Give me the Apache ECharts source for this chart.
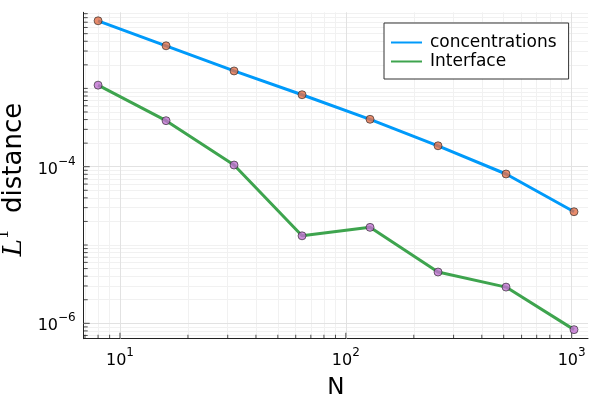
<!DOCTYPE html>
<html>
<head>
<meta charset="utf-8">
<script src="https://cdn.jsdelivr.net/npm/echarts@6/dist/echarts.min.js"></script>
<style>html,body{margin:0;padding:0;background:#fff}#c{width:600px;height:400px}</style>
</head>
<body>
<div id="c"></div>
<script>
const N = [8, 16, 32, 64, 128, 256, 512, 1024];
const concentrations = [7.3e-3, 3.5e-3, 1.67e-3, 8.3e-4, 4.03e-4, 1.85e-4, 8.07e-5, 2.66e-5];
const interfaceErr = [1.1e-3, 3.87e-4, 1.05e-4, 1.31e-5, 1.68e-5, 4.52e-6, 2.9e-6, 8.3e-7];
const seriesNames = ['concentrations', 'Interface'];
const xMajor = [10, 100, 1000];
const yMajor = [1e-6, 1e-4];

const xMin = 6.91, xMax = 1181, yMin = 6.36e-7, yMax = 9.37e-3;
const FONT = 'DejaVu Sans';

// minor grid/tick values (2..9 per decade plus unlabelled decades)
function minorVals(lo, hi, majors) {
  const out = [];
  for (let k = Math.floor(Math.log10(lo)); k <= Math.ceil(Math.log10(hi)); k++) {
    for (let m = 1; m <= 9; m++) {
      const v = m * Math.pow(10, k);
      if (v > lo && v < hi && !majors.some(M => Math.abs(M - v) / M < 1e-9)) out.push(v);
    }
  }
  return out;
}
const xMinor = minorVals(xMin, xMax, xMajor);
const yMinor = minorVals(yMin, yMax, yMajor);

function supLabel(v, keep) {
  const l = Math.log10(v), e = Math.round(l);
  if (Math.abs(l - e) > 1e-6 || !keep(e)) return '';
  return '{b|10}{s|' + (e < 0 ? '\u2212' : '') + Math.abs(e) + '}';
}
const richTick = {
  b: { fontSize: 16, fontFamily: FONT, color: '#000', verticalAlign: 'bottom', lineHeight: 22 },
  s: { fontSize: 12, fontFamily: FONT, color: '#000', verticalAlign: 'top', lineHeight: 22, padding: [0, 0, 6, 0] }
};

const vLines = (vals) => vals.map(v => [{ coord: [v, yMin] }, { coord: [v, yMax] }]);
const hLines = (vals) => vals.map(v => [{ coord: [xMin, v] }, { coord: [xMax, v] }]);
const gridMark = (data, color, z) => ({
  symbol: 'none', silent: true, animation: false, label: { show: false }, z: z,
  lineStyle: { color: color, width: 1, type: 'solid' }, data: data
});

const series = [
  { name: '_gridMinor', type: 'line', data: [],
    markLine: gridMark(vLines(xMinor).concat(hLines(yMinor)), '#f1f1f1', 0), z: 0 },
  { name: '_gridMajor', type: 'line', data: [],
    markLine: gridMark(vLines(xMajor).concat(hLines(yMajor)), '#e2e2e2', 1), z: 1 },
  { name: '_ticksXminor', type: 'scatter', clip: false, silent: true, symbol: 'rect', symbolSize: [1, 4], symbolOffset: [0, -2],
    itemStyle: { color: '#222' }, data: xMinor.map(v => [v, yMin]), z: 2 },
  { name: '_ticksXmajor', type: 'scatter', clip: false, silent: true, symbol: 'rect', symbolSize: [1, 6], symbolOffset: [0, -3],
    itemStyle: { color: '#222' }, data: xMajor.map(v => [v, yMin]), z: 2 },
  { name: '_ticksYminor', type: 'scatter', clip: false, silent: true, symbol: 'rect', symbolSize: [4, 1], symbolOffset: [2, 0],
    itemStyle: { color: '#222' }, data: yMinor.map(v => [xMin, v]), z: 2 },
  { name: '_ticksYmajor', type: 'scatter', clip: false, silent: true, symbol: 'rect', symbolSize: [6, 1], symbolOffset: [3, 0],
    itemStyle: { color: '#222' }, data: yMajor.map(v => [xMin, v]), z: 2 },
  { name: seriesNames[0], type: 'line', symbol: 'none', showSymbol: false,
    lineStyle: { color: '#009AFA', width: 3 }, itemStyle: { color: '#009AFA' },
    data: N.map((n, i) => [n, concentrations[i]]), z: 10 },
  { name: '_m1', type: 'scatter', symbol: 'circle', symbolSize: 8,
    itemStyle: { color: '#E36F47', borderColor: '#222', borderWidth: 0.8 },
    data: N.map((n, i) => [n, concentrations[i]]), z: 11 },
  { name: seriesNames[1], type: 'line', symbol: 'none', showSymbol: false,
    lineStyle: { color: '#3EA44E', width: 3 }, itemStyle: { color: '#3EA44E' },
    data: N.map((n, i) => [n, interfaceErr[i]]), z: 12 },
  { name: '_m2', type: 'scatter', symbol: 'circle', symbolSize: 8,
    itemStyle: { color: '#C271D2', borderColor: '#222', borderWidth: 0.8 },
    data: N.map((n, i) => [n, interfaceErr[i]]), z: 13 }
];

const chart = echarts.init(document.getElementById('c'), null, { renderer: 'canvas' });
chart.setOption({
  animation: false,
  backgroundColor: '#fff',
  grid: { left: 83.7, right: 12, top: 12.3, bottom: 61.3, containLabel: false, outerBoundsMode: 'none' },
  legend: {
    data: seriesNames, z: 30,
    left: 384, top: 23, orient: 'vertical',
    padding: [10, 12, 8, 7], itemGap: 0,
    itemWidth: 31, itemHeight: 2, icon: 'rect',
    borderColor: '#333', borderWidth: 1, backgroundColor: '#fff',
    textStyle: { fontSize: 17, fontFamily: FONT, color: '#000', lineHeight: 19, padding: [0, 0, 0, 3] }
  },
  xAxis: {
    type: 'log', logBase: 10, min: xMin, max: xMax,
    name: 'N', nameLocation: 'middle', nameGap: 38,
    nameTextStyle: { fontSize: 23, fontFamily: FONT, color: '#000' },
    axisLine: { show: true, onZero: false, lineStyle: { color: '#222', width: 1 } },
    axisTick: { show: false }, splitLine: { show: false }, minorTick: { show: false },
    axisLabel: { margin: 8, showMinLabel: false, showMaxLabel: false,
      formatter: v => supLabel(v, e => true), rich: richTick }
  },
  yAxis: {
    type: 'log', logBase: 10, min: yMin, max: yMax,
    name: '{it|L}{sp|1}{t|  distance}', nameLocation: 'middle', nameRotate: 90, nameGap: 54,
    nameTextStyle: {
      padding: [0, 8, 0, 0],
      rich: {
        it: { fontFamily: 'DejaVu Serif', fontStyle: 'italic', fontSize: 26, color: '#000', verticalAlign: 'bottom', lineHeight: 30 },
        sp: { fontFamily: 'DejaVu Serif', fontSize: 15, color: '#000', verticalAlign: 'top', lineHeight: 30 },
        t: { fontFamily: FONT, fontSize: 26, color: '#000', verticalAlign: 'bottom', lineHeight: 30 }
      }
    },
    axisLine: { show: true, onZero: false, lineStyle: { color: '#222', width: 1 } },
    axisTick: { show: false }, splitLine: { show: false }, minorTick: { show: false },
    axisLabel: { margin: 8, showMinLabel: false, showMaxLabel: false,
      formatter: v => supLabel(v, e => e % 2 === 0), rich: richTick }
  },
  series: series
});
</script>
</body>
</html>
